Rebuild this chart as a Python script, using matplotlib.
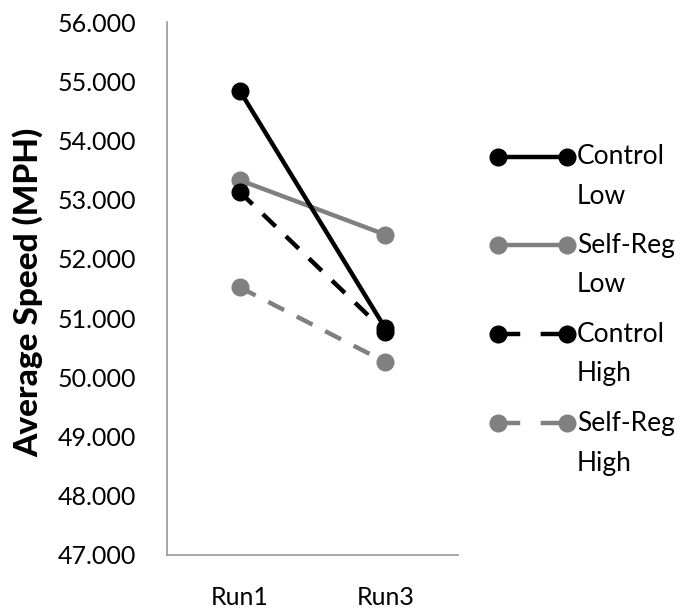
import matplotlib
matplotlib.use("Agg")
import matplotlib.pyplot as plt
from matplotlib.lines import Line2D

plt.rcParams['font.family'] = ['Lato', 'DejaVu Sans']

categories = ["Run1", "Run3"]
series_names = ["Control\nLow", "Self-Reg\nLow", "Control\nHigh", "Self-Reg\nHigh"]
control_low = [54.84, 50.83]
selfreg_low = [53.33, 52.41]
control_high = [53.13, 50.77]
selfreg_high = [51.52, 50.26]
yticks = [47, 48, 49, 50, 51, 52, 53, 54, 55, 56]

series = [control_low, selfreg_low, control_high, selfreg_high]
colors = ["#000000", "#808080", "#000000", "#808080"]
dashed = [False, False, True, True]

W, H = 684, 613
fig = plt.figure(figsize=(W / 100, H / 100), dpi=100)
ax = fig.add_axes([167 / W, (H - 555) / H, (458 - 167) / W, (555 - 22) / H])

x = list(range(len(categories)))
order = [1, 3, 2, 0]
for i in order:
    kw = dict(color=colors[i], lw=3.2, marker='o', markersize=12,
              solid_capstyle='butt', zorder=3 + (1 if colors[i] == "#000000" else 0))
    ln, = ax.plot(x, series[i], **kw)
    if dashed[i]:
        ln.set_linestyle((0, (4.0, 3.2)))

ax.set_xlim(-0.5, 1.5)
ax.set_ylim(47, 56)
ax.set_yticks(yticks)
ax.set_yticklabels([f"{v:.3f}" for v in yticks])
ax.set_xticks(x)
ax.set_xticklabels(["Run1", "Run3"])
ax.tick_params(axis='both', length=0, labelsize=18, colors='#000000')
ax.tick_params(axis='y', pad=22)
ax.tick_params(axis='x', pad=22)
for s in ['top', 'right']:
    ax.spines[s].set_visible(False)
for s in ['left', 'bottom']:
    ax.spines[s].set_color('#a0a0a0')
    ax.spines[s].set_linewidth(1.3)

fig.text(28 / W, 1 - 292 / H, "Average Speed (MPH)", rotation=90, fontsize=24,
         fontweight='black', ha='center', va='center')

# legend, drawn manually so the handle aligns with the first text line
ys = [157, 245, 334, 423]
for i in range(4):
    yy = 1 - ys[i] / H
    ln = Line2D([498 / W, 567 / W], [yy, yy], transform=fig.transFigure,
                color=colors[i], lw=3.2, marker='o', markersize=12,
                solid_capstyle='butt')
    if dashed[i]:
        ln.set_linestyle((0, (5.0, 4.6)))
    fig.add_artist(ln)
    first, second = series_names[i].split("\n")
    fig.text(577 / W, yy, first, fontsize=19, ha='left', va='center')
    fig.text(577 / W, 1 - (ys[i] + 40) / H, second, fontsize=19, ha='left', va='center')

fig.savefig("out.png", dpi=100)
